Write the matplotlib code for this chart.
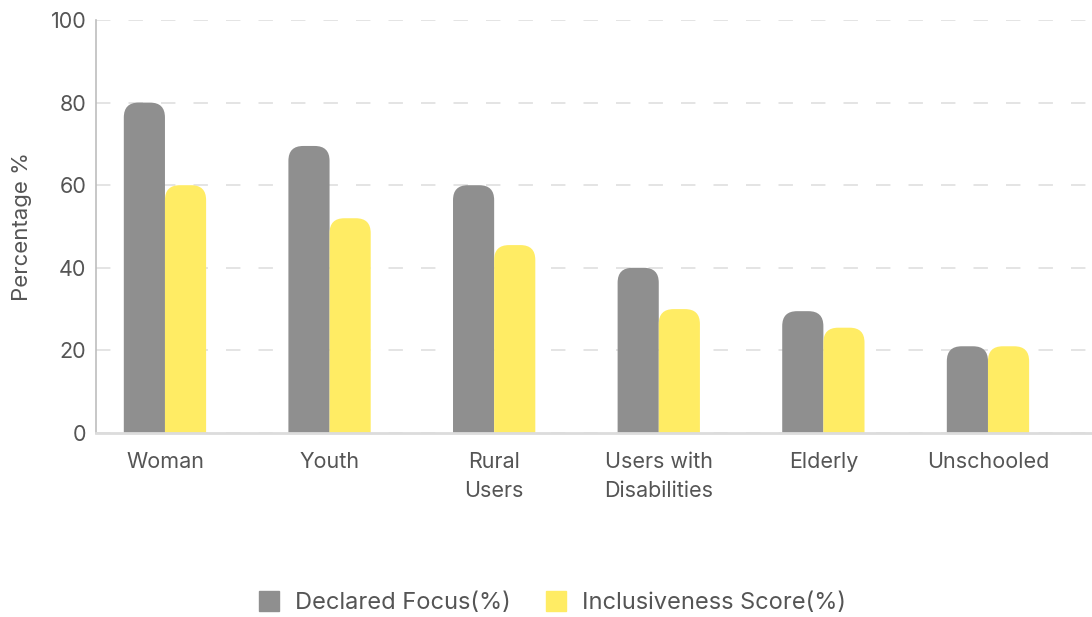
import matplotlib.pyplot as plt
from matplotlib.patches import FancyBboxPatch
import numpy as np

plt.rcParams['font.family'] = ['Inter', 'DejaVu Sans']

categories = ['Woman', 'Youth', 'Rural\nUsers', 'Users with\nDisabilities', 'Elderly', 'Unschooled']
declared = [80, 69.5, 60, 40, 29.5, 21]
inclusive = [60, 52, 45.5, 30, 25.5, 21]
series_names = ['Declared Focus(%)', 'Inclusiveness Score(%)']
colors = ['#8f8f8f', '#ffec64']

text_color = '#555555'

fig = plt.figure(figsize=(10.92, 6.17), dpi=100)
ax = fig.add_axes([0.0879, 0.2982, 0.9121, 0.6694])

x = np.arange(len(categories))
w = 0.25

bars1 = ax.bar(x - w / 2, declared, w, color=colors[0], label=series_names[0], zorder=3)
bars2 = ax.bar(x + w / 2, inclusive, w, color=colors[1], label=series_names[1], zorder=3)

ax.set_xlim(-0.419, 5.632)
ax.set_ylim(0, 100)

# pixels per data unit, so the corner radius comes out round on screen
x0, y0 = ax.transData.transform((0, 0))
x1, y1 = ax.transData.transform((1, 1))
aspect = (x1 - x0) / (y1 - y0)

# swap the plain rectangles for ones with rounded tops
for bars, c in [(bars1, colors[0]), (bars2, colors[1])]:
    for b in bars:
        bx, by = b.get_x(), b.get_y()
        bw, bh = b.get_width(), b.get_height()
        b.set_visible(False)
        p = FancyBboxPatch((bx, by - 5), bw, bh + 5,
                           boxstyle='round,pad=0,rounding_size=0.09',
                           mutation_aspect=aspect, facecolor=c, edgecolor='none',
                           zorder=3)
        ax.add_patch(p)

ax.set_yticks([0, 20, 40, 60, 80, 100])
ax.set_xticks(x)
ax.set_xticklabels(categories, linespacing=1.55, fontsize=16.5)

ax.tick_params(axis='both', length=0, labelsize=15.5, labelcolor=text_color)
ax.tick_params(axis='x', pad=14)
ax.tick_params(axis='y', pad=7)

ax.grid(axis='y', color='#e2e2e2', linestyle=(0, (8, 10)), linewidth=1.3, zorder=0)
ax.set_axisbelow(True)

for s in ['top', 'right']:
    ax.spines[s].set_visible(False)
ax.spines['left'].set_color('#bdbdbd')
ax.spines['left'].set_linewidth(1.2)
ax.spines['bottom'].set_color('#dcdcdc')
ax.spines['bottom'].set_linewidth(2)
ax.spines['bottom'].set_zorder(4)

ax.set_ylabel('Percentage %', fontsize=16, color=text_color)
ax.yaxis.set_label_coords(-0.064, 0.5)

handles = [plt.Line2D([], [], marker='s', linestyle='none', markersize=14,
                      markerfacecolor=c, markeredgecolor=c) for c in colors]
fig.legend(handles, series_names, loc='center', bbox_to_anchor=(0.505, 0.022),
           ncol=2, frameon=False, fontsize=17, labelcolor=text_color,
           handlelength=1, handletextpad=0.6, columnspacing=1.4)

fig.savefig('out.png', dpi=100)
